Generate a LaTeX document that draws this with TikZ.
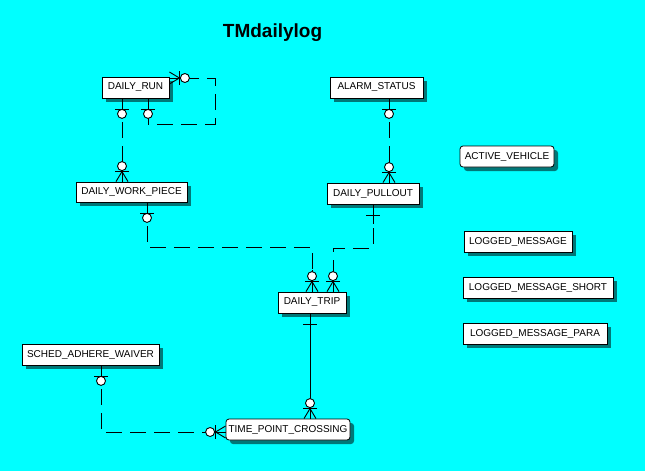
\documentclass[tikz,border=0pt]{standalone}
\usepackage{fontspec}
\setmainfont{Liberation Sans}
\usetikzlibrary{shadows}
\definecolor{bgc}{RGB}{0,255,255}
\definecolor{shadowc}{RGB}{0,120,120}
\begin{document}
\begin{tikzpicture}[x=1pt,y=-1pt,
  ent/.style={draw=black, line width=0.8pt, fill=white, inner sep=0pt,
    minimum height=21pt, font=\fontsize{10}{12}\selectfont,
    general shadow={fill=shadowc, shadow xshift=4pt, shadow yshift=-4pt}},
  dep/.style={ent, rounded corners=3pt},
  rel/.style={line width=0.9pt, dash pattern=on 16pt off 8pt},
  idrel/.style={line width=0.9pt},
  pmark/.pic={
    \draw[line width=0.9pt] (0,0)--(0,20);
    \draw[line width=0.9pt] (-7,11)--(7,11);
    \draw[line width=0.9pt,fill=white] (0,15.5) circle (4.5);},
  bmark/.pic={
    \draw[line width=0.9pt] (0,0)--(0,20);
    \draw[line width=0.9pt] (-7,11)--(7,11);},
  cmark/.pic={
    \draw[line width=0.9pt] (0,0)--(0,22);
    \draw[line width=0.9pt] (-6,0)--(0,10)--(6,0);
    \draw[line width=0.9pt] (-7,10)--(7,10);
    \draw[line width=0.9pt,fill=white] (0,15.5) circle (4.5);}
]
\fill[bgc] (0,0) rectangle (645,471);
\useasboundingbox (0,0) rectangle (645,471);

\node[anchor=base, font=\fontsize{19}{22}\selectfont\bfseries] (title) at (272.5,37) {TMdailylog};

\node[ent, minimum width=67pt] (run) at (135.5,87.5) {DAILY\_RUN};
\node[ent, minimum width=111pt, minimum height=20pt] (dwp) at (131.5,192) {DAILY\_WORK\_PIECE};
\node[ent, minimum width=93pt] (alarm) at (376.5,87.5) {ALARM\_STATUS};
\node[ent, minimum width=92pt] (dp) at (373,193.5) {DAILY\_PULLOUT};
\node[ent, minimum width=68pt] (dt) at (312,302.5) {DAILY\_TRIP};
\node[ent, minimum width=137pt] (saw) at (90.5,354.5) {SCHED\_ADHERE\_WAIVER};
\node[dep, minimum width=124pt] (tpc) at (288,429.5) {TIME\_POINT\_CROSSING};
\node[dep, minimum width=94pt] (av) at (507,156.5) {ACTIVE\_VEHICLE};
\node[ent, minimum width=108pt] (lm) at (518,241.5) {LOGGED\_MESSAGE};
\node[ent, minimum width=150pt] (lms) at (538,287.5) {LOGGED\_MESSAGE\_SHORT};
\node[ent, minimum width=144pt] (lmp) at (535,333.5) {LOGGED\_MESSAGE\_PARA};

% helper coordinates
\coordinate (c122) at (122,0);
\coordinate (l1) at (148,124);
\coordinate (l2) at (215,124);
\coordinate (l3) at (215,78);
\coordinate (c389) at (389,0);
\coordinate (m1) at (147,247);
\coordinate (m2) at (312,247);
\coordinate (n1) at (373,248);
\coordinate (n2) at (333,248);
\coordinate (c310) at (310,0);
\coordinate (s1) at (101,432);

% DAILY_RUN -> DAILY_WORK_PIECE
\draw[rel] (run.south -| c122) -- (dwp.north -| c122);
\pic at (run.south -| c122) {pmark};
\pic[rotate=180] at (dwp.north -| c122) {cmark};

% DAILY_RUN self relation
\draw[rel, dash phase=13pt] (run.south -| l1) -- (l1) -- (l2) -- (l3) -- (run.east |- l3);
\pic at (run.south -| l1) {pmark};
\pic[rotate=90] at (run.east |- l3) {cmark};

% ALARM_STATUS -> DAILY_PULLOUT
\draw[rel] (alarm.south -| c389) -- (dp.north -| c389);
\pic at (alarm.south -| c389) {pmark};
\pic[rotate=180] at (dp.north -| c389) {cmark};

% DAILY_WORK_PIECE -> DAILY_TRIP
\draw[rel] (dwp.south -| m1) -- (m1) -- (m2) -- (dt.north -| m2);
\pic at (dwp.south -| m1) {pmark};
\pic[rotate=180] at (dt.north -| m2) {cmark};

% DAILY_PULLOUT -> DAILY_TRIP
\draw[rel] (dp.south -| n1) -- (n1) -- (n2) -- (dt.north -| n2);
\pic at (dp.south -| n1) {bmark};
\pic[rotate=180] at (dt.north -| n2) {cmark};

% DAILY_TRIP -> TIME_POINT_CROSSING
\draw[idrel] (dt.south -| c310) -- (tpc.north -| c310);
\pic at (dt.south -| c310) {bmark};
\pic[rotate=180] at (tpc.north -| c310) {cmark};

% SCHED_ADHERE_WAIVER -> TIME_POINT_CROSSING
\draw[rel] (saw.south -| s1) -- (s1) -- (tpc.west |- s1);
\pic at (saw.south -| s1) {pmark};
\pic[rotate=-90] at (tpc.west |- s1) {cmark};
\end{tikzpicture}
\end{document}
